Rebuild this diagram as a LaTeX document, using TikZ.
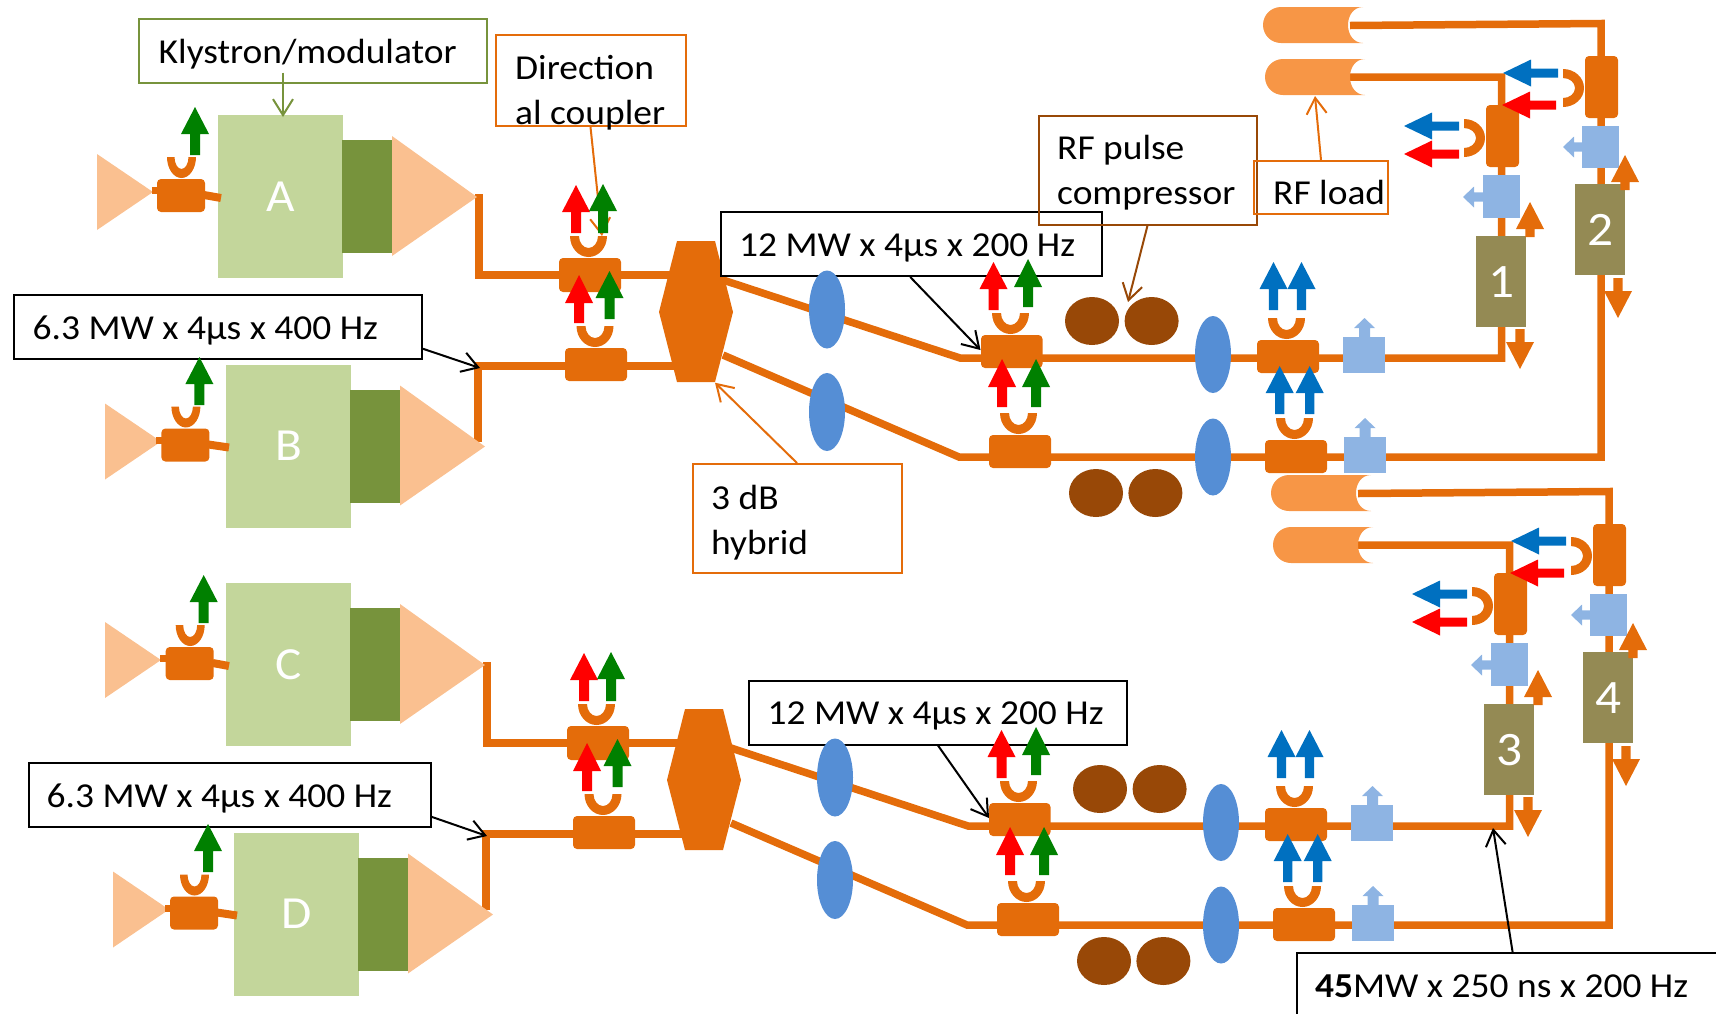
\documentclass[tikz,border=0pt]{standalone}
\usepackage{fontspec}
\setmainfont[FakeStretch=1.07]{Carlito}
\usetikzlibrary{arrows.meta,calc}
\definecolor{cOrange}{HTML}{E46C0A}
\definecolor{cPeach}{HTML}{FAC090}
\definecolor{cLime}{HTML}{C3D69B}
\definecolor{cOlive}{HTML}{77933C}
\definecolor{cLoad}{HTML}{F79646}
\definecolor{cOval}{HTML}{558ED5}
\definecolor{cSky}{HTML}{8EB4E3}
\definecolor{cGold}{HTML}{948A54}
\definecolor{cBrown}{HTML}{984807}
\definecolor{cRed}{HTML}{FF0000}
\definecolor{cGreen}{HTML}{008000}
\definecolor{cBlue}{HTML}{0070C0}
\tikzset{
  wire/.style={draw=cOrange,line width=7.5pt,line join=miter},
  cpl/.style={fill=cOrange,rounded corners=4pt},
  labelbox/.style={anchor=north west,inner sep=0pt,line width=2pt,draw=#1,minimum height=1pt},
  labeltext/.style={anchor=base west,inner sep=0pt,font=\fontsize{35}{45}\selectfont,align=left},
  klybox/.style={anchor=north west,inner sep=0pt,fill=cLime,text=white,minimum width=125pt,minimum height=163pt,font=\fontsize{46}{50}\selectfont},
  goldbox/.style={anchor=north west,inner sep=0pt,fill=cGold,text=white,minimum width=50pt,minimum height=91pt,font=\fontsize{48}{50}\selectfont},
  callout/.style={line width=2pt,-{Straight Barb[length=16pt,width=20pt,line width=2pt]}},
}
% fat arrow: tip position, rotation, half head width, head length, half shaft, total length
\newcommand{\fatarrow}[7]{\fill[#1,shift={#2},rotate=#3] (0,0) -- (#4,#5) -- (#6,#5) -- (#6,#7) -- (-#6,#7) -- (-#6,#5) -- (-#4,#5) -- cycle;}
% U shape: colour orange, centre, rotation, rx, ry, thickness x, thickness y
\newcommand{\ushape}[6]{%
  \pgfmathsetmacro{\uax}{#3-#5}\pgfmathsetmacro{\uay}{#4-#6}%
  \pgfmathsetmacro{\ubx}{#3*0.5523}\pgfmathsetmacro{\uby}{#4*0.5523}%
  \pgfmathsetmacro{\ucx}{\uax*0.5523}\pgfmathsetmacro{\ucy}{\uay*0.5523}%
  \fill[cOrange,shift={#1},rotate=#2] (-#3,0) .. controls (-#3,\uby) and (-\ubx,#4) .. (0,#4) .. controls (\ubx,#4) and (#3,\uby) .. (#3,0) -- (\uax,0) .. controls (\uax,\ucy) and (\ucx,\uay) .. (0,\uay) .. controls (-\ucx,\uay) and (-\uax,\ucy) .. (-\uax,0) -- cycle;}
\newcommand{\rfload}[2]{\fill[cLoad,shift={(#1,#2)}] (18,0) .. controls (8,0) and (0,8) .. (0,18) .. controls (0,28) and (8,36) .. (18,36) -- (100,36) .. controls (91,36) and (85,28) .. (85,18) .. controls (85,8) and (91,0) .. (100,0) -- cycle;}
% klystron unit: name, dx, dy, coupler dx
\newcommand{\klyunit}[4]{%
 \begin{scope}[shift={(#2,#3)}]
  \fill[cPeach] (97,154) -- (153,192) -- (97,230) -- cycle;
  \node[klybox] (#1) at (218,115) {\raisebox{-3.5pt}{#1}};
  \fill[cOlive] (342,140) rectangle (392,253);
  \fill[cPeach] (392,136) -- (477,197) -- (392,256) -- cycle;
  \fill[cOrange] (151.5+#4,187) rectangle (158+#4,194);
  \fill[cpl] (157+#4,179) rectangle (205+#4,212);
  \draw[cOrange,line width=8pt] (204+#4,195) -- (221,198);
  \ushape{(181.5+#4,157)}{0}{14.5}{21}{7.5}{9}
 \end{scope}}
\newcommand{\klyarrow}[2]{\fatarrow{cGreen}{(195+#2,107+#1)}{0}{14}{27}{5}{48}}
% network base
\newcommand{\netbase}{%
  \draw[wire] (479,194) -- (479,275) -- (690,275);
  \draw[wire] (478,442) -- (478,366) -- (690,366);
  \draw[wire] (723,280) -- (960,358) -- (1501.5,358) -- (1501.5,77) -- (1350,77);
  \draw[wire] (723,355) -- (959,457) -- (1601,457) -- (1601,23.5) -- (1350,25.5);
  \fill[cOrange] (677,241) -- (715,241) -- (733,312) -- (715,382) -- (677,382) -- (659,312) -- cycle;
  \fill[cpl] (559,258) rectangle (621,292);
  \fill[cpl] (565,348) rectangle (627,381);
  \fill[cOval] (827,412) ellipse [x radius=18pt,y radius=39pt];
  \fill[cpl] (981,335) rectangle (1042.5,368);
  \fill[cpl] (989,435) rectangle (1051,468);
  \fill[cBrown] (1092,321) ellipse [x radius=27pt,y radius=24pt];
  \fill[cBrown] (1151.6,321) ellipse [x radius=27pt,y radius=24pt];
  \fill[cBrown] (1096,493) ellipse [x radius=27pt,y radius=24pt];
  \fill[cBrown] (1155.4,493) ellipse [x radius=27pt,y radius=24pt];
  \fill[cOval] (1213,354.5) ellipse [x radius=18pt,y radius=38.5pt];
  \fill[cOval] (1213,457) ellipse [x radius=18pt,y radius=38.5pt];
  \fill[cpl] (1257,340) rectangle (1319,373);
  \fill[cpl] (1265,440) rectangle (1327,473);
  \fill[cSky] (1343,337) rectangle (1385,373);
  \fill[cSky] (1344,437) rectangle (1386,473);
  \rfload{1263}{7}
  \rfload{1265}{59}
  \fill[cpl] (1486,105) rectangle (1519,167);
  \fill[cpl] (1585,56) rectangle (1618,118);
  \fill[cSky] (1483,175) rectangle (1519.5,218);
  \fill[cSky] (1582,126) rectangle (1619,168);
}
\newcommand{\netarrows}{%
  \fill[cOval] (827,309.5) ellipse [x radius=18pt,y radius=39pt];
  \ushape{(588.5,236)}{0}{18.5}{21}{9}{9}
  \ushape{(595,326)}{0}{18.5}{21}{9}{9}
  \ushape{(1010.5,313)}{0}{18.5}{21}{9}{9}
  \ushape{(1018.5,413)}{0}{18.5}{21}{9}{9}
  \ushape{(1286.5,318)}{0}{18.5}{21}{9}{9}
  \ushape{(1294.5,418)}{0}{18.5}{21}{9}{9}
  \ushape{(1464,138)}{90}{19}{21}{9}{9}
  \ushape{(1563,88)}{90}{19}{21}{9}{9}
  \fatarrow{cRed}{(576,185)}{0}{14}{27}{5}{48}
  \fatarrow{cGreen}{(603,184)}{0}{14}{27}{5}{49}
  \fatarrow{cRed}{(579,275)}{0}{14}{28}{5}{48}
  \fatarrow{cGreen}{(609.5,271)}{0}{14}{27}{5}{48}
  \fatarrow{cRed}{(993.5,262)}{0}{14}{27}{5}{48}
  \fatarrow{cGreen}{(1028,259)}{0}{14}{28}{5}{48}
  \fatarrow{cRed}{(1002,359)}{0}{14}{28}{5}{48}
  \fatarrow{cGreen}{(1036,359)}{0}{14}{28}{5}{48}
  \fatarrow{cBlue}{(1273.5,262)}{0}{14}{27}{4.7}{48}
  \fatarrow{cBlue}{(1301.5,262)}{0}{14}{27}{4.7}{48}
  \fatarrow{cBlue}{(1279.7,366)}{0}{14}{27}{4.7}{48}
  \fatarrow{cBlue}{(1309.7,366)}{0}{14}{27}{4.7}{48}
  \fatarrow{cSky}{(1364.5,318)}{0}{10.5}{10}{5.5}{20}
  \fatarrow{cSky}{(1365,418)}{0}{10.5}{10}{5.5}{20}
  \fatarrow{cSky}{(1463,197)}{90}{10.5}{11}{4.7}{21}
  \fatarrow{cSky}{(1563,147)}{90}{10.5}{11}{4.7}{20}
  \fatarrow{cBlue}{(1404,126)}{90}{13.5}{28}{4.5}{55}
  \fatarrow{cRed}{(1404,154)}{90}{13.5}{28}{4.5}{55}
  \fatarrow{cBlue}{(1503,73)}{90}{13.5}{28}{4.5}{55}
  \fatarrow{cRed}{(1502,105)}{90}{13.5}{28}{4.5}{54}
  \node[goldbox] (n\gA) at (1476,236) {\raisebox{-2.5pt}{\gA}};
  \node[goldbox] (n\gB) at (1575,184) {\raisebox{-2.5pt}{\gB}};
  \fatarrow{cOrange}{(1530,202)}{0}{14}{27}{4.7}{35}
  \fatarrow{cOrange}{(1625,155)}{0}{14}{27}{4.7}{35}
  \fatarrow{cOrange}{(1520,369)}{180}{14}{27}{4.7}{40}
  \fatarrow{cOrange}{(1618,318)}{180}{14}{27}{4.7}{40}
}
\begin{document}
\begin{tikzpicture}[x=1pt,y=-1pt]
\useasboundingbox (0,0) rectangle (1716,1013);
\clip (0,0) rectangle (1716,1013);

% ---- network bodies
\netbase
\begin{scope}[shift={(8,468)}]\netbase\end{scope}

% ---- klystron units
\klyunit{A}{0}{0}{0}
\klyunit{B}{8}{249.5}{-3.6}
\klyunit{C}{8}{468}{0.7}
\klyunit{D}{16}{717.5}{-3}

% ---- label boxes
\node[labelbox=cOlive,minimum width=348pt,minimum height=64pt,fill=white] (klybx) at (138,18) {};
\node[labeltext] (klytx) at (158.5,63.5) {Klystron/modulator};
\node[labelbox=cOrange,minimum width=190pt,minimum height=91pt] (dirbx) at (494.5,34) {};
\node[labeltext] (dirtx) at (515,124.5) {Direction\\al coupler};
\node[labelbox=black,minimum width=408pt,minimum height=64pt,fill=white] (p1bx) at (13,294) {};
\node[labeltext] (p1tx) at (32.5,339.5) {6.3 MW x 4µs x 400 Hz};
\node[labelbox=black,minimum width=402pt,minimum height=64pt,fill=white] (p2bx) at (27.5,762) {};
\node[labeltext] (p2tx) at (46.5,807.5) {6.3 MW x 4µs x 400 Hz};
\node[labelbox=black,minimum width=381pt,minimum height=64pt,fill=white] (m1bx) at (719.5,211) {};
\node[labeltext] (m1tx) at (739,256) {12 MW x 4µs x 200 Hz};
\node[labelbox=black,minimum width=378pt,minimum height=64pt,fill=white] (m2bx) at (748,679.5) {};
\node[labeltext] (m2tx) at (767.5,724) {12 MW x 4µs x 200 Hz};
\node[labelbox=cBrown,minimum width=218pt,minimum height=109pt] (pcbx) at (1037.5,114.5) {};
\node[labeltext] (pctx) at (1057,204) {RF pulse\\compressor};
\node[labelbox=cOrange,minimum width=134pt,minimum height=53pt] (rlbx) at (1253,160) {};
\node[labeltext] (rltx) at (1273,204.5) {RF load};
\node[labelbox=cOrange,minimum width=209pt,minimum height=109pt,fill=white] (hybx) at (691.5,463) {};
\node[labeltext] (hytx) at (711,554) {3 dB\\hybrid};
\node[labelbox=black,minimum width=440pt,minimum height=80pt,fill=white] (hpbx) at (1296,952) {};
\node[labeltext] (hptx) at (1315,997) {\textbf{45}MW x 250 ns x 200 Hz};

% ---- connector ends
\coordinate (klyfrom) at (283,72.7);
\coordinate (klyto) at (283,117);
\coordinate (dirto) at (602,236);
\coordinate (p1to) at (480,368);
\coordinate (p2to) at (487,836);
\coordinate (m1to) at (980.5,350);
\coordinate (m2to) at (989,818);
\coordinate (pcto) at (1128,302);
\coordinate (rlto) at (1315,96);
\coordinate (hyto) at (715,382.7);
\coordinate (hpto) at (1493,828);

\draw[callout,draw=cOlive] (klyfrom) -- (klyto);
\draw[callout,draw=cOrange] ($(dirbx.south west)!.5!(dirbx.south east)$) -- (dirto);
\draw[callout] ($(p1bx.north east)!.83!(p1bx.south east)$) -- (p1to);
\draw[callout] ($(p2bx.north east)!.83!(p2bx.south east)$) -- (p2to);
\draw[callout] ($(m1bx.south west)!.498!(m1bx.south east)$) -- (m1to);
\draw[callout] ($(m2bx.south west)!.50!(m2bx.south east)$) -- (m2to);
\draw[callout,draw=cBrown] ($(pcbx.south west)!.50!(pcbx.south east)$) -- (pcto);
\draw[callout,draw=cOrange] ($(rlbx.north west)!.50!(rlbx.north east)$) -- (rlto);
\draw[callout,draw=cOrange] ($(hybx.north west)!.50!(hybx.north east)$) -- (hyto);
\draw[callout] ($(hpbx.north west)!.49!(hpbx.north east)$) -- (hpto);

% ---- arrows on top
\klyarrow{0}{0}
\klyarrow{250}{4.4}
\klyarrow{468}{8.7}
\klyarrow{717}{13}
\def\gA{1}\def\gB{2}
\netarrows
\begin{scope}[shift={(8,468)}]
\def\gA{3}\def\gB{4}
\netarrows
\end{scope}
\end{tikzpicture}
\end{document}
